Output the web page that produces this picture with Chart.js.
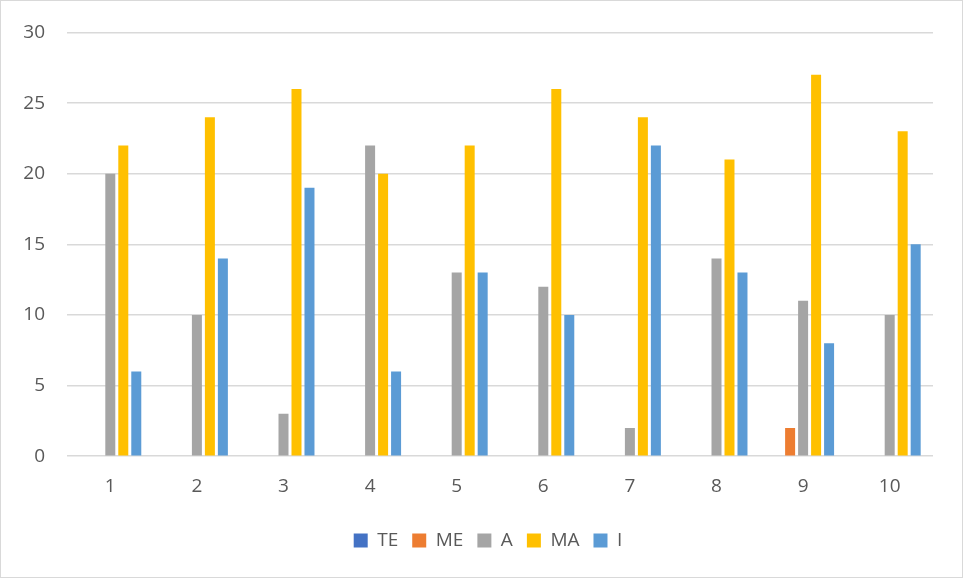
<!DOCTYPE html>
<html><head><meta charset="utf-8">
<script src="https://cdn.jsdelivr.net/npm/chart.js@4"></script>
<style>
html,body{margin:0;padding:0;background:#fff;}
#wrap{position:absolute;left:0;top:0;width:961px;height:576px;border:1px solid #d9d9d9;background:#fff;}
canvas{display:block;}
</style></head><body>
<div id="wrap"><canvas id="c" width="961" height="576"></canvas></div>
<script>
const categories = ['1','2','3','4','5','6','7','8','9','10'];
const TE = [0,0,0,0,0,0,0,0,0,0];
const ME = [0,0,0,0,0,0,0,0,2,0];
const A  = [20,10,3,22,13,12,2,14,11,10];
const MA = [22,24,26,20,22,26,24,21,27,23];
const I  = [6,14,19,6,13,10,22,13,8,15];
const yTicks = [0,5,10,15,20,25,30];

const font = {family:"'Open Sans','Liberation Sans',sans-serif", size:19};
const yFont = {family:"'Open Sans','Liberation Sans',sans-serif", size:19, lineHeight:1};
function ds(label, data, color){
  return {label, data, backgroundColor:color, borderWidth:0, barPercentage:0.77, categoryPercentage:0.75};
}
const legendShift = {
  id:'legendShift',
  afterLayout(chart){
    const l = chart.legend;
    if (l) { l.left += 21; l.right += 21; }
  }
};
new Chart(document.getElementById('c'), {
  type:'bar',
  data:{labels:categories, datasets:[
    ds('TE', TE, '#4472c4'),
    ds('ME', ME, '#ed7d31'),
    ds('A', A, '#a5a5a5'),
    ds('MA', MA, '#ffc000'),
    ds('I', I, '#5b9bd5')
  ]},
  plugins:[legendShift],
  options:{
    responsive:false, animation:false,
    layout:{padding:{left:0,right:29,top:19,bottom:17}},
    plugins:{
      legend:{position:'bottom', labels:{boxWidth:14, boxHeight:14, font:font, color:'#595959', padding:14}},
      tooltip:{enabled:false}
    },
    scales:{
      x:{grid:{display:false, drawTicks:false}, border:{display:false},
         ticks:{font:font, color:'#595959', padding:19}},
      y:{min:0, max:30, afterFit:s=>{s.width=66;},
         afterBuildTicks:s=>{s.ticks = yTicks.map(v=>({value:v}));},
         grid:{color:'#d9d9d9', lineWidth:1.5, drawTicks:false}, border:{display:false},
         ticks:{font:yFont, color:'#595959', padding:22}}
    }
  }
});
</script></body></html>
